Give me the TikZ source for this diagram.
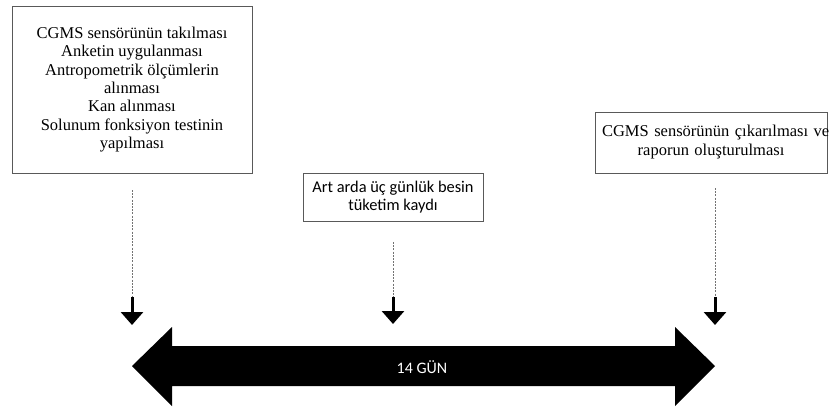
\documentclass[tikz,border=0pt]{standalone}
\usepackage{fontspec}
\setmainfont{Liberation Serif}
\newfontfamily\calib{Carlito}
\usetikzlibrary{arrows.meta}
\begin{document}
\begin{tikzpicture}[x=1pt,y=-1pt,
  box/.style={draw=black!65,line width=1pt,fill=white,align=center,inner sep=0pt},
  serifleft/.style={font=\fontsize{16.5}{18.3}\selectfont},
  serifright/.style={font=\fontsize{16.5}{19}\selectfont},
  sansmid/.style={font=\calib\fontsize{16.4}{18.2}\selectfont},
  dashline/.style={draw=black!55,line width=0.9pt,dash pattern=on 2pt off 1.2pt},
  marker/.style={line width=3pt,-{Triangle[width=22pt,length=13pt]}},
  bigarrow/.style={fill=black,draw=none}]
\useasboundingbox (0,0) rectangle (829,410);
% boxes
\node[box,serifleft,minimum width=240pt,minimum height=167pt] (start) at (132,89.5)
  {CGMS sensörünün takılması\\Anketin uygulanması\\Antropometrik ölçümlerin\\alınması\\Kan alınması\\Solunum fonksiyon testinin\\yapılması};
\node[box,serifright,minimum width=232pt,minimum height=61pt,text width=232pt] (end) at (711,142.5)
  {\makebox[232pt][l]{\hspace{7pt}CGMS sensörünün çıkarılması ve}\\raporun oluşturulması};
\node[box,sansmid,minimum width=180pt,minimum height=48pt] (mid) at (393,197)
  {Art arda üç günlük besin\\tüketim kaydı};
% connector coordinates
\coordinate (s1) at (132,190); \coordinate (m1) at (132,297); \coordinate (t1) at (132,325);
\coordinate (s2) at (393,242); \coordinate (m2) at (393,297); \coordinate (t2) at (393,324);
\coordinate (s3) at (715,188); \coordinate (m3) at (715,297); \coordinate (t3) at (715,325);
\draw[dashline] (s1) -- (m1);
\draw[dashline] (s2) -- (m2);
\draw[dashline] (s3) -- (m3);
\draw[marker] (m1) -- (t1);
\draw[marker] (m2) -- (t2);
\draw[marker] (m3) -- (t3);
% big double arrow
\path[bigarrow] (132,366) -- (172,327) -- (172,346) -- (675,346) -- (675,327) -- (715,366)
  -- (675,406) -- (675,386) -- (172,386) -- (172,406) -- cycle;
\node[text=white,font=\calib\fontsize{16}{18}\selectfont] (days) at (422,367) {14 GÜN};
\end{tikzpicture}
\end{document}
